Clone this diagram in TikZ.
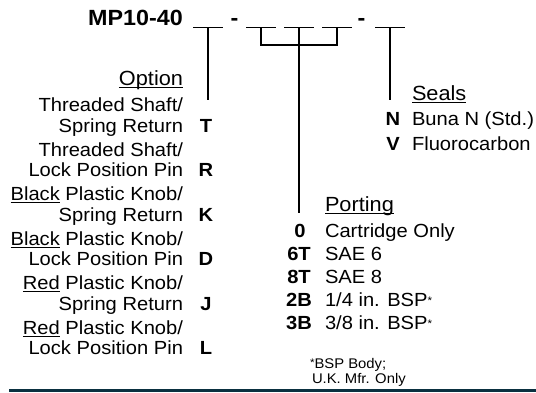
\documentclass[tikz,border=0pt]{standalone}
\usepackage{fontspec}
\setmainfont{Liberation Sans}[FakeStretch=1.06]
\definecolor{barcol}{RGB}{10,48,64}
\newcommand\myul[1]{\setbox0\hbox{#1}\rlap{\rule[-2.6pt]{\wd0}{1pt}}\box0}
\newcommand\smast{\raisebox{1.5pt}{\fontsize{11}{11}\selectfont *}}
\begin{document}
\begin{tikzpicture}[x=1pt,y=-1pt,
  txt/.style={inner sep=0pt,outer sep=0pt,font=\fontsize{19}{20}\selectfont},
  lbl/.style={txt,anchor=base east},
  lft/.style={txt,anchor=base west},
  code/.style={txt,anchor=base,font=\fontsize{19}{20}\selectfont\bfseries},
  hdr/.style={inner sep=0pt,outer sep=0pt,font=\fontsize{20.5}{22}\selectfont},
  note/.style={inner sep=0pt,outer sep=0pt,anchor=base west,font=\fontsize{14}{15}\selectfont},
  blank/.style={line width=1pt},
  conn/.style={line width=1.2pt}]
\useasboundingbox (0,0) rectangle (536,392);
% title
\node[inner sep=0pt,anchor=base east,font=\fontsize{22}{24}\selectfont\bfseries] (title) at (183,25) {MP10-40};
\node[inner sep=0pt,anchor=base,font=\fontsize{22}{24}\selectfont\bfseries] (d1) at (234.5,25) {-};
\node[inner sep=0pt,anchor=base,font=\fontsize{22}{24}\selectfont\bfseries] (d2) at (361.5,25) {-};
% blanks
\foreach \n/\c in {b1/208,b2/261,b3/299,b4/337,b5/390}{
  \coordinate (\n) at (\c,27);
  \coordinate (\n l) at (\c-15,27);
  \coordinate (\n r) at (\c+15,27);
  \draw[blank] (\n l) -- (\n r);
}
% line ends
\coordinate (optend) at (208,100);
\coordinate (brl) at (261,45);
\coordinate (brr) at (337,45);
\coordinate (portend) at (299,213);
\coordinate (sealend) at (390,100);
\draw[conn] (b1) -- (optend);
\draw[conn] (b2) -- (brl) -- (brr) -- (b4);
\draw[conn] (b3) -- (portend);
\draw[conn] (b5) -- (sealend);
% Option
\node[hdr,anchor=base east] (opth) at (183,85) {\myul{Option}};
\node[lbl] (o1a) at (183,111.5) {Threaded Shaft/};
\node[lbl] (o1b) at (183,132) {Spring Return};
\node[code] (o1c) at (206,132) {T};
\node[lbl] (o2a) at (183,156) {Threaded Shaft/};
\node[lbl] (o2b) at (183,176.5) {Lock Position Pin};
\node[code] (o2c) at (206,176.5) {R};
\node[lbl] (o3a) at (183,200.5) {\myul{Black}\ Plastic Knob/};
\node[lbl] (o3b) at (183,221) {Spring Return};
\node[code] (o3c) at (206,221) {K};
\node[lbl] (o4a) at (183,245) {\myul{Black}\ Plastic Knob/};
\node[lbl] (o4b) at (183,265.5) {Lock Position Pin};
\node[code] (o4c) at (206,265.5) {D};
\node[lbl] (o5a) at (183,289.5) {\myul{Red}\ Plastic Knob/};
\node[lbl] (o5b) at (183,310) {Spring Return};
\node[code] (o5c) at (206,310) {J};
\node[lbl] (o6a) at (183,334) {\myul{Red}\ Plastic Knob/};
\node[lbl] (o6b) at (183,354.5) {Lock Position Pin};
\node[code] (o6c) at (206,354.5) {L};
% Seals
\node[hdr,anchor=base west] (sealh) at (412,100) {\myul{Seals}};
\node[code] (s1c) at (393,125) {N};
\node[lft] (s1) at (412,125) {Buna N (Std.)};
\node[code] (s2c) at (393,150) {V};
\node[lft] (s2) at (412,150) {Fluorocarbon};
% Porting
\node[hdr,anchor=base west] (porth) at (325,211) {\myul{Porting}};
\node[code] (p1c) at (300,237) {0};
\node[lft] (p1) at (325,237) {Cartridge Only};
\node[code] (p2c) at (299,260) {6T};
\node[lft] (p2) at (325,260) {SAE 6};
\node[code] (p3c) at (299,283) {8T};
\node[lft] (p3) at (325,283) {SAE 8};
\node[code] (p4c) at (299,306) {2B};
\node[lft] (p4) at (325,306) {1/4 in. BSP\smast};
\node[code] (p5c) at (299,329) {3B};
\node[lft] (p5) at (325,329) {3/8 in. BSP\smast};
\node[note] (n1) at (310,368) {\smast BSP Body;};
\node[note] (n2) at (312,383) {U.K. Mfr. Only};
% bottom bar
\fill[barcol] (9,388.5) rectangle (536,392);
\end{tikzpicture}
\end{document}
